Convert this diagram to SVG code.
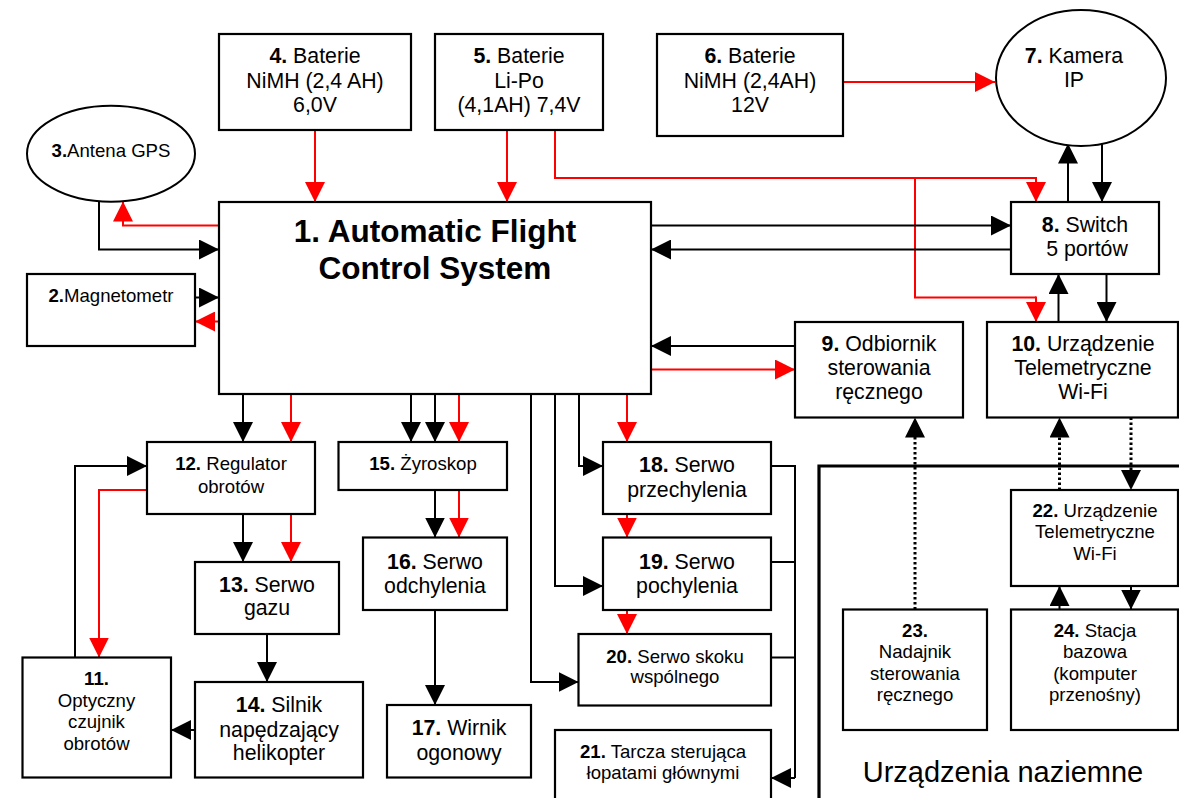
<svg xmlns="http://www.w3.org/2000/svg" width="1179" height="798" viewBox="0 0 1179 798">
<defs>
<style>
.box{fill:#fff;stroke:#000;stroke-width:2.2}
.t{font-family:"Liberation Sans",Arial,sans-serif;font-size:21.3px;fill:#000;text-anchor:middle}
.s{font-family:"Liberation Sans",Arial,sans-serif;font-size:18.6px;fill:#000;text-anchor:middle}
.b{font-weight:bold}
.k{fill:none;stroke:#000;stroke-width:2}
.r{fill:none;stroke:#f00;stroke-width:2}
.d{fill:none;stroke:#000;stroke-width:3;stroke-dasharray:2.5 2.5}
.ka{marker-end:url(#ak)}
.ra{marker-end:url(#ar)}
</style>
<marker id="ak" markerUnits="userSpaceOnUse" markerWidth="20" markerHeight="20" refX="20" refY="10" orient="auto" viewBox="0 0 20 20"><path d="M0,0 L20,10 L0,20 z" fill="#000"/></marker>
<marker id="ar" markerUnits="userSpaceOnUse" markerWidth="20" markerHeight="20" refX="20" refY="10" orient="auto" viewBox="0 0 20 20"><path d="M0,0 L20,10 L0,20 z" fill="#f00"/></marker>
</defs>
<rect width="1179" height="798" fill="#fff"/>

<g id="connectors">
<!-- power -->
<path class="r ra" d="M315,130 V202"/>
<path class="r ra" d="M507,130 V202"/>
<path class="r" d="M555,130 V178 H1036"/>
<path class="r ra" d="M1036,177 V202"/>
<path class="r" d="M915,178 V297.5 H1036"/>
<path class="r ra" d="M1036,296.5 V322"/>
<path class="r ra" d="M843,82 H995"/>
<!-- GPS -->
<path class="k ka" d="M99,201 V249.5 H219"/>
<path class="r ra" d="M219,225.5 H123 V201.5"/>
<!-- magnetometer -->
<path class="k ka" d="M195,297.5 H219"/>
<path class="r ra" d="M219,321.5 H195"/>
<!-- switch -->
<path class="k ka" d="M651,225.5 H1011"/>
<path class="k ka" d="M1011,249.5 H651"/>
<path class="k ka" d="M1068,202 V143.5"/>
<path class="k ka" d="M1102,142 V202"/>
<path class="k ka" d="M1058.5,322 V274"/>
<path class="k ka" d="M1106.5,274 V322"/>
<!-- receiver -->
<path class="k ka" d="M795,346 H651"/>
<path class="r ra" d="M651,369.5 H795"/>
<!-- AFCS bottom -->
<path class="k ka" d="M243,394 V442"/>
<path class="r ra" d="M291,394 V442"/>
<path class="k ka" d="M411,394 V442"/>
<path class="k ka" d="M435,394 V442"/>
<path class="r ra" d="M459,394 V442"/>
<path class="k ka" d="M531,394 V682 H578.5"/>
<path class="k ka" d="M555,394 V586 H603"/>
<path class="k ka" d="M579,394 V466 H603"/>
<path class="r ra" d="M627,394 V442"/>
<!-- regulator group -->
<path class="k ka" d="M243,514 V562"/>
<path class="r ra" d="M291,514 V562"/>
<path class="r ra" d="M147,490 H99 V657.5"/>
<path class="k ka" d="M75,657.5 V466 H147"/>
<path class="k ka" d="M267,634 V682"/>
<path class="k ka" d="M195,730 H171"/>
<!-- gyro group -->
<path class="k ka" d="M435,490 V537.5"/>
<path class="r ra" d="M459,490 V537.5"/>
<path class="k ka" d="M435,610 V705"/>
<!-- servos -->
<path class="r ra" d="M627,514 V537.5"/>
<path class="r ra" d="M627,610 V634"/>
<path class="k" d="M771,466 H795 V778"/>
<path class="k ka" d="M795,778 H771"/>
<path class="k" d="M771,562 H795"/>
<path class="k" d="M771,657.5 H795"/>
<!-- ground links -->
<path class="d" d="M915,609.5 V436"/>
<path class="k ka" d="M915,438 V417.5" style="stroke:none"/>
<path class="d" d="M1059.5,490 V436"/>
<path class="k ka" d="M1059.5,438 V417.5" style="stroke:none"/>
<path class="d" d="M1131,417.5 V471"/>
<path class="k ka" d="M1131,469 V490" style="stroke:none"/>
<path class="k ka" d="M1059.5,609.5 V586"/>
<path class="k ka" d="M1131,586 V609.5"/>
</g>

<g id="ground-area">
<path d="M819,798 V466 H1179" fill="none" stroke="#000" stroke-width="3.2"/>
<text class="t" x="1003" y="781.5" style="font-size:29px">Urządzenia naziemne</text>
</g>

<g id="n1"><rect class="box" x="219" y="202" width="432" height="192"/>
<text class="t b" style="font-size:31.5px" x="435" y="241.5">1. Automatic Flight</text>
<text class="t b" style="font-size:31.5px" x="435" y="279">Control System</text></g>

<g id="n2"><rect class="box" x="27" y="274" width="168" height="72"/>
<text class="s" x="111" y="301.5"><tspan class="b">2.</tspan>Magnetometr</text></g>

<g id="n3"><ellipse cx="111" cy="153.7" rx="84" ry="48" fill="#fff" stroke="#000" stroke-width="2"/>
<text class="s" x="111" y="156.5"><tspan class="b">3.</tspan>Antena GPS</text></g>

<g id="n4"><rect class="box" x="219" y="34" width="192" height="96"/>
<text class="t" x="315" y="63"><tspan class="b">4.</tspan> Baterie</text>
<text class="t" x="315" y="88">NiMH (2,4 AH)</text>
<text class="t" x="315" y="112">6,0V</text></g>

<g id="n5"><rect class="box" x="435" y="34" width="168" height="96"/>
<text class="t" x="519" y="63"><tspan class="b">5.</tspan> Baterie</text>
<text class="t" x="519" y="88">Li-Po</text>
<text class="t" x="519" y="112">(4,1AH) 7,4V</text></g>

<g id="n6"><rect class="box" x="657" y="34" width="186" height="102"/>
<text class="t" x="750" y="63"><tspan class="b">6.</tspan> Baterie</text>
<text class="t" x="750" y="88">NiMH (2,4AH)</text>
<text class="t" x="750" y="112">12V</text></g>

<g id="n7"><ellipse cx="1081" cy="78" rx="85" ry="68" fill="#fff" stroke="#000" stroke-width="2"/>
<text class="t" x="1074" y="63"><tspan class="b">7.</tspan> Kamera</text>
<text class="t" x="1074" y="87">IP</text></g>

<g id="n8"><rect class="box" x="1011" y="202" width="148" height="72"/>
<text class="t" x="1085" y="232"><tspan class="b">8.</tspan> Switch</text>
<text class="t" x="1087" y="256">5 portów</text></g>

<g id="n9"><rect class="box" x="795" y="322" width="168" height="95.5"/>
<text class="t" x="879" y="351"><tspan class="b">9.</tspan> Odbiornik</text>
<text class="t" x="879" y="375">sterowania</text>
<text class="t" x="879" y="398.5">ręcznego</text></g>

<g id="n10"><rect class="box" x="987" y="322" width="191" height="95.5"/>
<text class="t" x="1083" y="351"><tspan class="b">10.</tspan> Urządzenie</text>
<text class="t" x="1083" y="375">Telemetryczne</text>
<text class="t" x="1083" y="398.5">Wi-Fi</text></g>

<g id="n11"><rect class="box" x="22.5" y="657.5" width="148.5" height="120"/>
<text class="s b" x="96.5" y="685">11.</text>
<text class="s" x="96.5" y="706.5">Optyczny</text>
<text class="s" x="96.5" y="728">czujnik</text>
<text class="s" x="96.5" y="749.5">obrotów</text></g>

<g id="n12"><rect class="box" x="147" y="442" width="168" height="72"/>
<text class="s" x="231" y="470"><tspan class="b">12.</tspan> Regulator</text>
<text class="s" x="231" y="493">obrotów</text></g>

<g id="n13"><rect class="box" x="195" y="562" width="144" height="72"/>
<text class="t" x="267" y="591.5"><tspan class="b">13.</tspan> Serwo</text>
<text class="t" x="267" y="615">gazu</text></g>

<g id="n14"><rect class="box" x="195" y="682" width="168" height="95.5"/>
<text class="t" x="279" y="711.5"><tspan class="b">14.</tspan> Silnik</text>
<text class="t" x="279" y="736.5">napędzający</text>
<text class="t" x="279" y="760">helikopter</text></g>

<g id="n15"><rect class="box" x="338.5" y="442" width="168.5" height="48"/>
<text class="s" x="423" y="470"><tspan class="b">15.</tspan> Żyroskop</text></g>

<g id="n16"><rect class="box" x="363" y="537.5" width="144" height="72.5"/>
<text class="t" x="435" y="568.5"><tspan class="b">16.</tspan> Serwo</text>
<text class="t" x="435" y="592.5">odchylenia</text></g>

<g id="n17"><rect class="box" x="387" y="705" width="144" height="72.5"/>
<text class="t" x="459" y="735"><tspan class="b">17.</tspan> Wirnik</text>
<text class="t" x="459" y="759.5">ogonowy</text></g>

<g id="n18"><rect class="box" x="603" y="442" width="168" height="72"/>
<text class="t" x="687" y="471.5"><tspan class="b">18.</tspan> Serwo</text>
<text class="t" x="687" y="496.5">przechylenia</text></g>

<g id="n19"><rect class="box" x="603" y="537.5" width="168" height="72.5"/>
<text class="t" x="687" y="568.5"><tspan class="b">19.</tspan> Serwo</text>
<text class="t" x="687" y="592.5">pochylenia</text></g>

<g id="n20"><rect class="box" x="578.5" y="634" width="192.5" height="71.5"/>
<text class="s" x="675" y="662.5"><tspan class="b">20.</tspan> Serwo skoku</text>
<text class="s" x="675" y="682.5">wspólnego</text></g>

<g id="n21"><rect class="box" x="555" y="730" width="216" height="80"/>
<text class="s" x="663" y="758"><tspan class="b">21.</tspan> Tarcza sterująca</text>
<text class="s" x="663" y="778.5">łopatami głównymi</text></g>

<g id="n22"><rect class="box" x="1011" y="490" width="167" height="96"/>
<text class="s" x="1095" y="517"><tspan class="b">22.</tspan> Urządzenie</text>
<text class="s" x="1095" y="538">Telemetryczne</text>
<text class="s" x="1095" y="559.5">Wi-Fi</text></g>

<g id="n23"><rect class="box" x="843" y="609.5" width="144" height="120.5"/>
<text class="s b" x="915" y="636.5">23.</text>
<text class="s" x="915" y="658">Nadajnik</text>
<text class="s" x="915" y="679.5">sterowania</text>
<text class="s" x="915" y="700.5">ręcznego</text></g>

<g id="n24"><rect class="box" x="1011" y="609.5" width="167" height="120.5"/>
<text class="s" x="1095" y="636.5"><tspan class="b">24.</tspan> Stacja</text>
<text class="s" x="1095" y="658">bazowa</text>
<text class="s" x="1095" y="679.5">(komputer</text>
<text class="s" x="1095" y="700.5">przenośny)</text></g>
</svg>
